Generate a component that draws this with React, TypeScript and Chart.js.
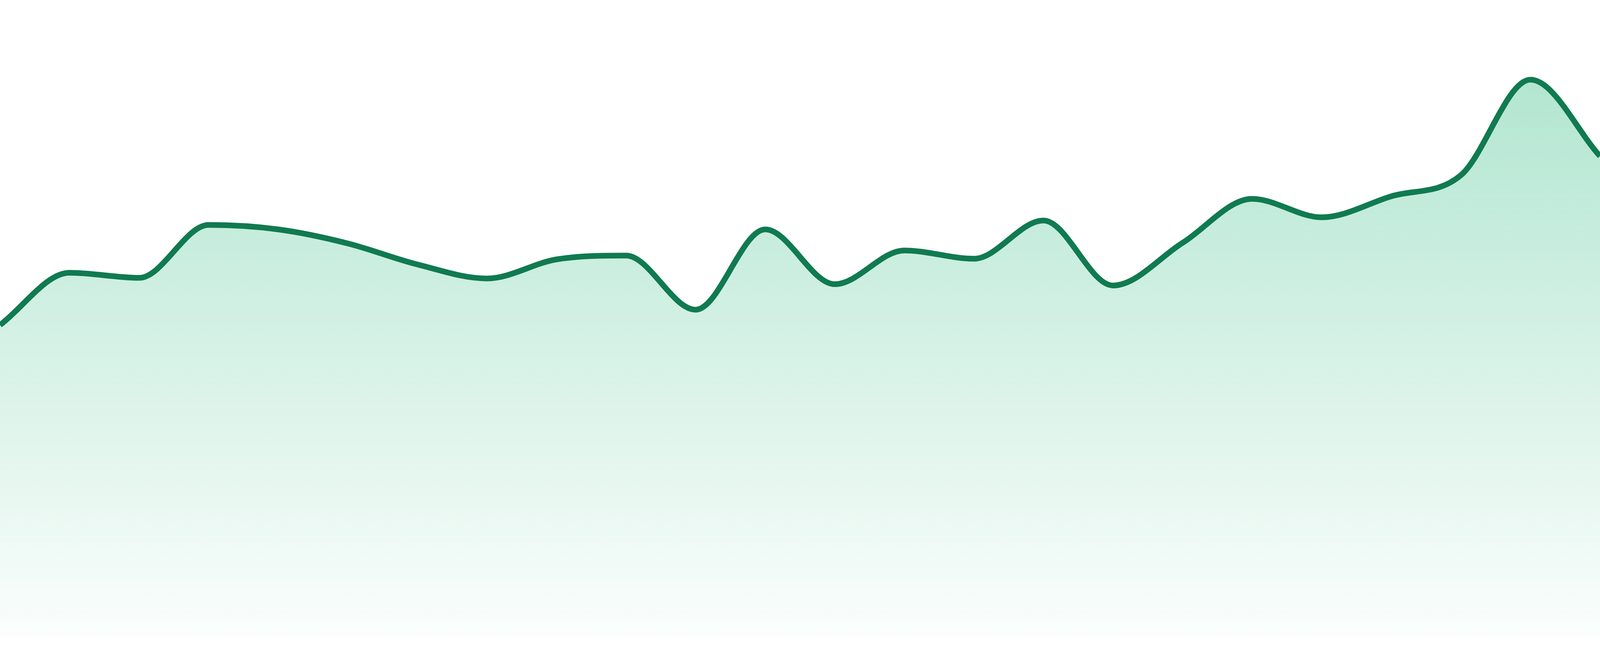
import React, { useEffect, useRef } from "react";
import { Chart, registerables } from "chart.js";

Chart.register(...registerables);

const labels: string[] = [
  "1", "2", "3", "4", "5", "6", "7", "8", "9", "10", "11", "12",
  "13", "14", "15", "16", "17", "18", "19", "20", "21", "22", "23", "24",
];

const values: number[] = [
  49.0, 57.2, 56.4, 64.7, 64.0, 61.8, 58.5, 56.3, 59.3, 59.9, 51.4, 64.0,
  55.4, 60.7, 59.4, 65.4, 55.2, 61.9, 68.8, 65.9, 69.2, 72.5, 87.5, 75.5,
];

const yMin = 0;
const yMax = 100;

const LINE_COLOR = "#107a50";

export default function App() {
  const ref = useRef<HTMLCanvasElement | null>(null);

  useEffect(() => {
    document.body.style.margin = "0";
    const canvas = ref.current;
    if (!canvas) return;
    const chart = new Chart(canvas, {
      type: "line",
      data: {
        labels,
        datasets: [
          {
            data: values,
            borderColor: LINE_COLOR,
            borderWidth: 14.5,
            cubicInterpolationMode: "monotone",
            pointRadius: 0,
            pointHoverRadius: 0,
            fill: "start",
            backgroundColor: (ctx: any) => {
              const c = ctx.chart;
              const area = c.chartArea;
              if (!area) return "rgba(38,184,124,0.2)";
              const g = c.ctx.createLinearGradient(0, area.top, 0, area.bottom);
              g.addColorStop(0, "rgba(38,184,124,0.40)");
              g.addColorStop(1, "rgba(38,184,124,0.02)");
              return g;
            },
          },
        ],
      },
      options: {
        animation: false,
        responsive: true,
        maintainAspectRatio: false,
        layout: { padding: { top: 0, left: 0, right: 0, bottom: 48 } },
        plugins: {
          legend: { display: false },
          tooltip: { enabled: false },
        },
        scales: {
          x: { display: false, offset: false },
          y: { display: false, min: yMin, max: yMax },
        },
      },
    });
    return () => chart.destroy();
  }, []);

  return (
    <div style={{ position: "fixed", left: 0, top: 0, width: "100vw", height: "100vh", background: "#ffffff" }}>
      <canvas ref={ref} />
    </div>
  );
}
